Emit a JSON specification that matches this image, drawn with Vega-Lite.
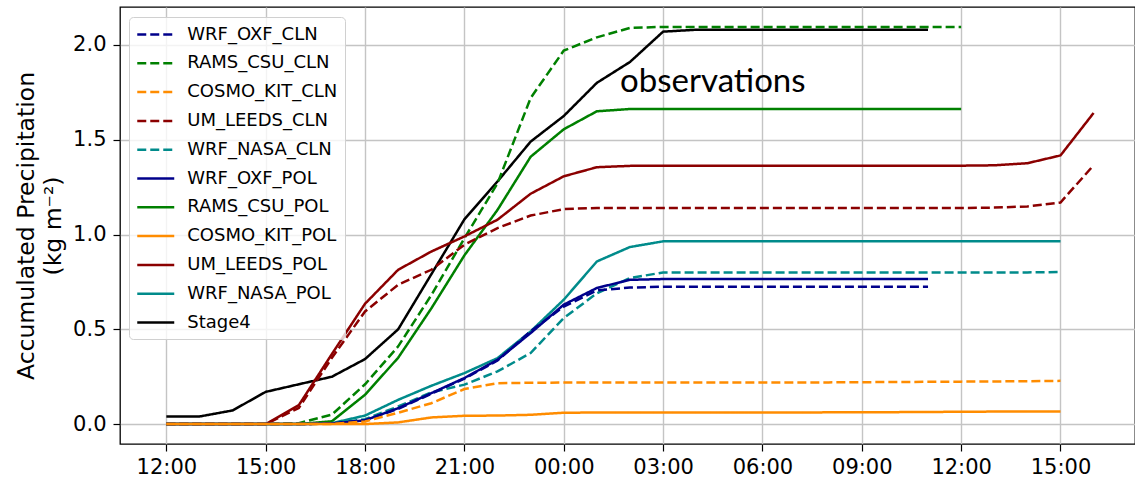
{
  "$schema": "https://vega.github.io/schema/vega-lite/v6.json",
  "autosize": "none",
  "width": 1015,
  "height": 437,
  "padding": {"left": 120, "top": 7, "right": 0, "bottom": 34},
  "background": "white",
  "config": {
    "view": {"stroke": "black", "strokeWidth": 1.3},
    "axis": {
      "labelFont": "DejaVu Sans", "labelFontSize": 21, "labelColor": "black",
      "tickColor": "black", "tickSize": 7, "tickWidth": 1.2, "domain": false,
      "gridColor": "#c4c4c4", "gridWidth": 1.4,
      "titleFont": "DejaVu Sans", "titleFontSize": 23.5, "titleFontWeight": "normal", "titleColor": "black"
    },
    "legend": {
      "labelFont": "DejaVu Sans", "labelFontSize": 18, "labelColor": "black"
    }
  },
  "datasets": {
    "obs": [{"h": 13.7, "v": 1.754, "label": "observations"}]
  },
  "data": {"values": [
    {"s":"Stage4","h":0,"v":0.04},{"s":"Stage4","h":1,"v":0.04},{"s":"Stage4","h":2,"v":0.072},{"s":"Stage4","h":3,"v":0.17},{"s":"Stage4","h":4,"v":0.21},{"s":"Stage4","h":5,"v":0.25},{"s":"Stage4","h":6,"v":0.343},{"s":"Stage4","h":7,"v":0.5},{"s":"Stage4","h":8,"v":0.79},{"s":"Stage4","h":9,"v":1.08},{"s":"Stage4","h":10,"v":1.28},{"s":"Stage4","h":11,"v":1.49},{"s":"Stage4","h":12,"v":1.625},{"s":"Stage4","h":13,"v":1.8},{"s":"Stage4","h":14,"v":1.91},{"s":"Stage4","h":15,"v":2.07},{"s":"Stage4","h":16,"v":2.08},{"s":"Stage4","h":17,"v":2.08},{"s":"Stage4","h":18,"v":2.08},{"s":"Stage4","h":19,"v":2.08},{"s":"Stage4","h":20,"v":2.08},{"s":"Stage4","h":21,"v":2.08},{"s":"Stage4","h":22,"v":2.08},{"s":"Stage4","h":23,"v":2.08},

    {"s":"RAMS_CSU_CLN","h":0,"v":0},{"s":"RAMS_CSU_CLN","h":1,"v":0},{"s":"RAMS_CSU_CLN","h":2,"v":0},{"s":"RAMS_CSU_CLN","h":3,"v":0},{"s":"RAMS_CSU_CLN","h":4,"v":0.005},{"s":"RAMS_CSU_CLN","h":5,"v":0.05},{"s":"RAMS_CSU_CLN","h":6,"v":0.21},{"s":"RAMS_CSU_CLN","h":7,"v":0.41},{"s":"RAMS_CSU_CLN","h":8,"v":0.68},{"s":"RAMS_CSU_CLN","h":9,"v":0.98},{"s":"RAMS_CSU_CLN","h":10,"v":1.27},{"s":"RAMS_CSU_CLN","h":11,"v":1.72},{"s":"RAMS_CSU_CLN","h":12,"v":1.97},{"s":"RAMS_CSU_CLN","h":13,"v":2.04},{"s":"RAMS_CSU_CLN","h":14,"v":2.09},{"s":"RAMS_CSU_CLN","h":15,"v":2.095},{"s":"RAMS_CSU_CLN","h":16,"v":2.095},{"s":"RAMS_CSU_CLN","h":17,"v":2.095},{"s":"RAMS_CSU_CLN","h":18,"v":2.095},{"s":"RAMS_CSU_CLN","h":19,"v":2.095},{"s":"RAMS_CSU_CLN","h":20,"v":2.095},{"s":"RAMS_CSU_CLN","h":21,"v":2.095},{"s":"RAMS_CSU_CLN","h":22,"v":2.095},{"s":"RAMS_CSU_CLN","h":23,"v":2.095},{"s":"RAMS_CSU_CLN","h":24,"v":2.095},

    {"s":"RAMS_CSU_POL","h":0,"v":0},{"s":"RAMS_CSU_POL","h":1,"v":0},{"s":"RAMS_CSU_POL","h":2,"v":0},{"s":"RAMS_CSU_POL","h":3,"v":0},{"s":"RAMS_CSU_POL","h":4,"v":0},{"s":"RAMS_CSU_POL","h":5,"v":0.015},{"s":"RAMS_CSU_POL","h":6,"v":0.155},{"s":"RAMS_CSU_POL","h":7,"v":0.35},{"s":"RAMS_CSU_POL","h":8,"v":0.61},{"s":"RAMS_CSU_POL","h":9,"v":0.89},{"s":"RAMS_CSU_POL","h":10,"v":1.13},{"s":"RAMS_CSU_POL","h":11,"v":1.41},{"s":"RAMS_CSU_POL","h":12,"v":1.555},{"s":"RAMS_CSU_POL","h":13,"v":1.65},{"s":"RAMS_CSU_POL","h":14,"v":1.662},{"s":"RAMS_CSU_POL","h":15,"v":1.662},{"s":"RAMS_CSU_POL","h":16,"v":1.662},{"s":"RAMS_CSU_POL","h":17,"v":1.662},{"s":"RAMS_CSU_POL","h":18,"v":1.662},{"s":"RAMS_CSU_POL","h":19,"v":1.662},{"s":"RAMS_CSU_POL","h":20,"v":1.662},{"s":"RAMS_CSU_POL","h":21,"v":1.662},{"s":"RAMS_CSU_POL","h":22,"v":1.662},{"s":"RAMS_CSU_POL","h":23,"v":1.662},{"s":"RAMS_CSU_POL","h":24,"v":1.662},

    {"s":"UM_LEEDS_POL","h":0,"v":0},{"s":"UM_LEEDS_POL","h":1,"v":0},{"s":"UM_LEEDS_POL","h":2,"v":0},{"s":"UM_LEEDS_POL","h":3,"v":0},{"s":"UM_LEEDS_POL","h":4,"v":0.1},{"s":"UM_LEEDS_POL","h":5,"v":0.37},{"s":"UM_LEEDS_POL","h":6,"v":0.635},{"s":"UM_LEEDS_POL","h":7,"v":0.814},{"s":"UM_LEEDS_POL","h":8,"v":0.91},{"s":"UM_LEEDS_POL","h":9,"v":0.99},{"s":"UM_LEEDS_POL","h":10,"v":1.078},{"s":"UM_LEEDS_POL","h":11,"v":1.215},{"s":"UM_LEEDS_POL","h":12,"v":1.307},{"s":"UM_LEEDS_POL","h":13,"v":1.355},{"s":"UM_LEEDS_POL","h":14,"v":1.362},{"s":"UM_LEEDS_POL","h":15,"v":1.363},{"s":"UM_LEEDS_POL","h":16,"v":1.363},{"s":"UM_LEEDS_POL","h":17,"v":1.363},{"s":"UM_LEEDS_POL","h":18,"v":1.363},{"s":"UM_LEEDS_POL","h":19,"v":1.363},{"s":"UM_LEEDS_POL","h":20,"v":1.363},{"s":"UM_LEEDS_POL","h":21,"v":1.363},{"s":"UM_LEEDS_POL","h":22,"v":1.363},{"s":"UM_LEEDS_POL","h":23,"v":1.363},{"s":"UM_LEEDS_POL","h":24,"v":1.363},{"s":"UM_LEEDS_POL","h":25,"v":1.365},{"s":"UM_LEEDS_POL","h":26,"v":1.376},{"s":"UM_LEEDS_POL","h":27,"v":1.417},{"s":"UM_LEEDS_POL","h":28,"v":1.641},

    {"s":"UM_LEEDS_CLN","h":0,"v":0},{"s":"UM_LEEDS_CLN","h":1,"v":0},{"s":"UM_LEEDS_CLN","h":2,"v":0},{"s":"UM_LEEDS_CLN","h":3,"v":0},{"s":"UM_LEEDS_CLN","h":4,"v":0.085},{"s":"UM_LEEDS_CLN","h":5,"v":0.35},{"s":"UM_LEEDS_CLN","h":6,"v":0.594},{"s":"UM_LEEDS_CLN","h":7,"v":0.735},{"s":"UM_LEEDS_CLN","h":8,"v":0.814},{"s":"UM_LEEDS_CLN","h":9,"v":0.946},{"s":"UM_LEEDS_CLN","h":10,"v":1.034},{"s":"UM_LEEDS_CLN","h":11,"v":1.1},{"s":"UM_LEEDS_CLN","h":12,"v":1.134},{"s":"UM_LEEDS_CLN","h":13,"v":1.14},{"s":"UM_LEEDS_CLN","h":14,"v":1.14},{"s":"UM_LEEDS_CLN","h":15,"v":1.14},{"s":"UM_LEEDS_CLN","h":16,"v":1.14},{"s":"UM_LEEDS_CLN","h":17,"v":1.14},{"s":"UM_LEEDS_CLN","h":18,"v":1.14},{"s":"UM_LEEDS_CLN","h":19,"v":1.14},{"s":"UM_LEEDS_CLN","h":20,"v":1.14},{"s":"UM_LEEDS_CLN","h":21,"v":1.14},{"s":"UM_LEEDS_CLN","h":22,"v":1.14},{"s":"UM_LEEDS_CLN","h":23,"v":1.14},{"s":"UM_LEEDS_CLN","h":24,"v":1.14},{"s":"UM_LEEDS_CLN","h":25,"v":1.142},{"s":"UM_LEEDS_CLN","h":26,"v":1.148},{"s":"UM_LEEDS_CLN","h":27,"v":1.169},{"s":"UM_LEEDS_CLN","h":28,"v":1.365},

    {"s":"WRF_NASA_POL","h":0,"v":0},{"s":"WRF_NASA_POL","h":1,"v":0},{"s":"WRF_NASA_POL","h":2,"v":0},{"s":"WRF_NASA_POL","h":3,"v":0},{"s":"WRF_NASA_POL","h":4,"v":0},{"s":"WRF_NASA_POL","h":5,"v":0.005},{"s":"WRF_NASA_POL","h":6,"v":0.045},{"s":"WRF_NASA_POL","h":7,"v":0.128},{"s":"WRF_NASA_POL","h":8,"v":0.202},{"s":"WRF_NASA_POL","h":9,"v":0.269},{"s":"WRF_NASA_POL","h":10,"v":0.348},{"s":"WRF_NASA_POL","h":11,"v":0.489},{"s":"WRF_NASA_POL","h":12,"v":0.656},{"s":"WRF_NASA_POL","h":13,"v":0.858},{"s":"WRF_NASA_POL","h":14,"v":0.934},{"s":"WRF_NASA_POL","h":15,"v":0.964},{"s":"WRF_NASA_POL","h":16,"v":0.964},{"s":"WRF_NASA_POL","h":17,"v":0.964},{"s":"WRF_NASA_POL","h":18,"v":0.964},{"s":"WRF_NASA_POL","h":19,"v":0.964},{"s":"WRF_NASA_POL","h":20,"v":0.964},{"s":"WRF_NASA_POL","h":21,"v":0.964},{"s":"WRF_NASA_POL","h":22,"v":0.964},{"s":"WRF_NASA_POL","h":23,"v":0.964},{"s":"WRF_NASA_POL","h":24,"v":0.964},{"s":"WRF_NASA_POL","h":25,"v":0.964},{"s":"WRF_NASA_POL","h":26,"v":0.964},{"s":"WRF_NASA_POL","h":27,"v":0.964},

    {"s":"WRF_NASA_CLN","h":0,"v":0},{"s":"WRF_NASA_CLN","h":1,"v":0},{"s":"WRF_NASA_CLN","h":2,"v":0},{"s":"WRF_NASA_CLN","h":3,"v":0},{"s":"WRF_NASA_CLN","h":4,"v":0},{"s":"WRF_NASA_CLN","h":5,"v":0.003},{"s":"WRF_NASA_CLN","h":6,"v":0.026},{"s":"WRF_NASA_CLN","h":7,"v":0.093},{"s":"WRF_NASA_CLN","h":8,"v":0.167},{"s":"WRF_NASA_CLN","h":9,"v":0.208},{"s":"WRF_NASA_CLN","h":10,"v":0.278},{"s":"WRF_NASA_CLN","h":11,"v":0.375},{"s":"WRF_NASA_CLN","h":12,"v":0.559},{"s":"WRF_NASA_CLN","h":13,"v":0.69},{"s":"WRF_NASA_CLN","h":14,"v":0.77},{"s":"WRF_NASA_CLN","h":15,"v":0.8},{"s":"WRF_NASA_CLN","h":16,"v":0.8},{"s":"WRF_NASA_CLN","h":17,"v":0.8},{"s":"WRF_NASA_CLN","h":18,"v":0.8},{"s":"WRF_NASA_CLN","h":19,"v":0.8},{"s":"WRF_NASA_CLN","h":20,"v":0.8},{"s":"WRF_NASA_CLN","h":21,"v":0.8},{"s":"WRF_NASA_CLN","h":22,"v":0.8},{"s":"WRF_NASA_CLN","h":23,"v":0.8},{"s":"WRF_NASA_CLN","h":24,"v":0.8},{"s":"WRF_NASA_CLN","h":25,"v":0.8},{"s":"WRF_NASA_CLN","h":26,"v":0.8},{"s":"WRF_NASA_CLN","h":27,"v":0.802},

    {"s":"WRF_OXF_POL","h":0,"v":0},{"s":"WRF_OXF_POL","h":1,"v":0},{"s":"WRF_OXF_POL","h":2,"v":0},{"s":"WRF_OXF_POL","h":3,"v":0},{"s":"WRF_OXF_POL","h":4,"v":0},{"s":"WRF_OXF_POL","h":5,"v":0.003},{"s":"WRF_OXF_POL","h":6,"v":0.02},{"s":"WRF_OXF_POL","h":7,"v":0.084},{"s":"WRF_OXF_POL","h":8,"v":0.163},{"s":"WRF_OXF_POL","h":9,"v":0.243},{"s":"WRF_OXF_POL","h":10,"v":0.339},{"s":"WRF_OXF_POL","h":11,"v":0.48},{"s":"WRF_OXF_POL","h":12,"v":0.63},{"s":"WRF_OXF_POL","h":13,"v":0.718},{"s":"WRF_OXF_POL","h":14,"v":0.761},{"s":"WRF_OXF_POL","h":15,"v":0.765},{"s":"WRF_OXF_POL","h":16,"v":0.765},{"s":"WRF_OXF_POL","h":17,"v":0.765},{"s":"WRF_OXF_POL","h":18,"v":0.765},{"s":"WRF_OXF_POL","h":19,"v":0.765},{"s":"WRF_OXF_POL","h":20,"v":0.765},{"s":"WRF_OXF_POL","h":21,"v":0.765},{"s":"WRF_OXF_POL","h":22,"v":0.765},{"s":"WRF_OXF_POL","h":23,"v":0.765},

    {"s":"WRF_OXF_CLN","h":0,"v":0},{"s":"WRF_OXF_CLN","h":1,"v":0},{"s":"WRF_OXF_CLN","h":2,"v":0},{"s":"WRF_OXF_CLN","h":3,"v":0},{"s":"WRF_OXF_CLN","h":4,"v":0},{"s":"WRF_OXF_CLN","h":5,"v":0.003},{"s":"WRF_OXF_CLN","h":6,"v":0.02},{"s":"WRF_OXF_CLN","h":7,"v":0.08},{"s":"WRF_OXF_CLN","h":8,"v":0.16},{"s":"WRF_OXF_CLN","h":9,"v":0.24},{"s":"WRF_OXF_CLN","h":10,"v":0.335},{"s":"WRF_OXF_CLN","h":11,"v":0.49},{"s":"WRF_OXF_CLN","h":12,"v":0.62},{"s":"WRF_OXF_CLN","h":13,"v":0.705},{"s":"WRF_OXF_CLN","h":14,"v":0.72},{"s":"WRF_OXF_CLN","h":15,"v":0.725},{"s":"WRF_OXF_CLN","h":16,"v":0.725},{"s":"WRF_OXF_CLN","h":17,"v":0.725},{"s":"WRF_OXF_CLN","h":18,"v":0.725},{"s":"WRF_OXF_CLN","h":19,"v":0.725},{"s":"WRF_OXF_CLN","h":20,"v":0.725},{"s":"WRF_OXF_CLN","h":21,"v":0.725},{"s":"WRF_OXF_CLN","h":22,"v":0.725},{"s":"WRF_OXF_CLN","h":23,"v":0.725},

    {"s":"COSMO_KIT_CLN","h":0,"v":0},{"s":"COSMO_KIT_CLN","h":1,"v":0},{"s":"COSMO_KIT_CLN","h":2,"v":0},{"s":"COSMO_KIT_CLN","h":3,"v":0},{"s":"COSMO_KIT_CLN","h":4,"v":0},{"s":"COSMO_KIT_CLN","h":5,"v":0},{"s":"COSMO_KIT_CLN","h":6,"v":0.014},{"s":"COSMO_KIT_CLN","h":7,"v":0.06},{"s":"COSMO_KIT_CLN","h":8,"v":0.11},{"s":"COSMO_KIT_CLN","h":9,"v":0.185},{"s":"COSMO_KIT_CLN","h":10,"v":0.216},{"s":"COSMO_KIT_CLN","h":11,"v":0.218},{"s":"COSMO_KIT_CLN","h":12,"v":0.219},{"s":"COSMO_KIT_CLN","h":13,"v":0.219},{"s":"COSMO_KIT_CLN","h":14,"v":0.219},{"s":"COSMO_KIT_CLN","h":15,"v":0.22},{"s":"COSMO_KIT_CLN","h":16,"v":0.22},{"s":"COSMO_KIT_CLN","h":17,"v":0.22},{"s":"COSMO_KIT_CLN","h":18,"v":0.22},{"s":"COSMO_KIT_CLN","h":19,"v":0.22},{"s":"COSMO_KIT_CLN","h":20,"v":0.22},{"s":"COSMO_KIT_CLN","h":21,"v":0.221},{"s":"COSMO_KIT_CLN","h":22,"v":0.222},{"s":"COSMO_KIT_CLN","h":23,"v":0.223},{"s":"COSMO_KIT_CLN","h":24,"v":0.224},{"s":"COSMO_KIT_CLN","h":25,"v":0.225},{"s":"COSMO_KIT_CLN","h":26,"v":0.226},{"s":"COSMO_KIT_CLN","h":27,"v":0.228},

    {"s":"COSMO_KIT_POL","h":0,"v":0},{"s":"COSMO_KIT_POL","h":1,"v":0},{"s":"COSMO_KIT_POL","h":2,"v":0},{"s":"COSMO_KIT_POL","h":3,"v":0},{"s":"COSMO_KIT_POL","h":4,"v":0},{"s":"COSMO_KIT_POL","h":5,"v":0},{"s":"COSMO_KIT_POL","h":6,"v":0},{"s":"COSMO_KIT_POL","h":7,"v":0.009},{"s":"COSMO_KIT_POL","h":8,"v":0.035},{"s":"COSMO_KIT_POL","h":9,"v":0.044},{"s":"COSMO_KIT_POL","h":10,"v":0.045},{"s":"COSMO_KIT_POL","h":11,"v":0.049},{"s":"COSMO_KIT_POL","h":12,"v":0.06},{"s":"COSMO_KIT_POL","h":13,"v":0.061},{"s":"COSMO_KIT_POL","h":14,"v":0.061},{"s":"COSMO_KIT_POL","h":15,"v":0.061},{"s":"COSMO_KIT_POL","h":16,"v":0.061},{"s":"COSMO_KIT_POL","h":17,"v":0.061},{"s":"COSMO_KIT_POL","h":18,"v":0.061},{"s":"COSMO_KIT_POL","h":19,"v":0.061},{"s":"COSMO_KIT_POL","h":20,"v":0.062},{"s":"COSMO_KIT_POL","h":21,"v":0.062},{"s":"COSMO_KIT_POL","h":22,"v":0.063},{"s":"COSMO_KIT_POL","h":23,"v":0.064},{"s":"COSMO_KIT_POL","h":24,"v":0.065},{"s":"COSMO_KIT_POL","h":25,"v":0.066},{"s":"COSMO_KIT_POL","h":26,"v":0.066},{"s":"COSMO_KIT_POL","h":27,"v":0.067}
  ]},
  "layer": [
    {
      "mark": {"type": "line", "strokeWidth": 2.5, "clip": true},
      "encoding": {
        "x": {
          "field": "h", "type": "quantitative",
          "scale": {"domain": [-1.4, 29.25], "nice": false, "zero": false},
          "axis": {
            "title": null, "values": [0, 3, 6, 9, 12, 15, 18, 21, 24, 27],
            "labelPadding": 5,
            "labelExpr": "(((datum.value + 12) % 24) < 10 ? '0' : '') + ((datum.value + 12) % 24) + ':00'"
          }
        },
        "y": {
          "field": "v", "type": "quantitative",
          "scale": {"domain": [-0.105, 2.2], "nice": false, "zero": false},
          "axis": {
            "title": ["Accumulated Precipitation", "(kg m⁻²)"],
            "values": [0, 0.5, 1, 1.5, 2], "format": ".1f",
            "labelPadding": 7, "titlePadding": 7, "titleLineHeight": 27
          }
        },
        "color": {
          "field": "s", "type": "nominal",
          "scale": {
            "domain": ["WRF_OXF_CLN", "RAMS_CSU_CLN", "COSMO_KIT_CLN", "UM_LEEDS_CLN", "WRF_NASA_CLN", "WRF_OXF_POL", "RAMS_CSU_POL", "COSMO_KIT_POL", "UM_LEEDS_POL", "WRF_NASA_POL", "Stage4"],
            "range": ["#00008b", "#008000", "#ff8c00", "#8b0000", "#008b8b", "#00008b", "#008000", "#ff8c00", "#8b0000", "#008b8b", "#000000"]
          },
          "legend": {
            "title": null, "orient": "none", "legendX": 9, "legendY": 10,
            "symbolType": "M-2,0H2", "symbolSize": 342, "symbolStrokeWidth": 2.5, "symbolOffset": 9.25,
            "rowPadding": 8.8, "labelOffset": 21,
            "padding": 7, "fillColor": "rgba(255,255,255,0.8)", "strokeColor": "#d0d0d0", "cornerRadius": 4
          }
        },
        "strokeDash": {
          "field": "s", "type": "nominal",
          "scale": {
            "domain": ["WRF_OXF_CLN", "RAMS_CSU_CLN", "COSMO_KIT_CLN", "UM_LEEDS_CLN", "WRF_NASA_CLN", "WRF_OXF_POL", "RAMS_CSU_POL", "COSMO_KIT_POL", "UM_LEEDS_POL", "WRF_NASA_POL", "Stage4"],
            "range": [[9, 4], [9, 4], [9, 4], [9, 4], [9, 4], [1, 0], [1, 0], [1, 0], [1, 0], [1, 0], [1, 0]]
          },
          "legend": {
            "title": null, "orient": "none", "legendX": 9, "legendY": 10,
            "symbolType": "M-2,0H2", "symbolSize": 342, "symbolStrokeWidth": 2.5, "symbolOffset": 9.25,
            "rowPadding": 8.8, "labelOffset": 21,
            "padding": 7, "fillColor": "rgba(255,255,255,0.8)", "strokeColor": "#d0d0d0", "cornerRadius": 4
          }
        }
      }
    },
    {
      "data": {"name": "obs"},
      "mark": {"type": "text", "align": "left", "baseline": "alphabetic", "font": "Lato", "fontSize": 33, "color": "black"},
      "encoding": {
        "x": {"field": "h", "type": "quantitative"},
        "y": {"field": "v", "type": "quantitative"},
        "text": {"field": "label"}
      }
    }
  ]
}
